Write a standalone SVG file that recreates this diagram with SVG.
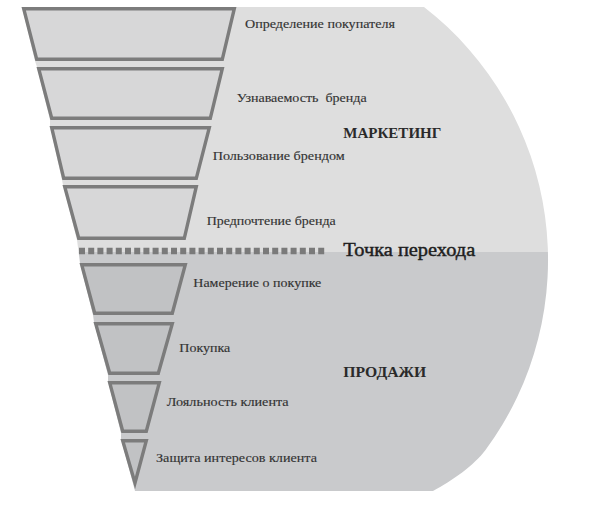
<svg xmlns="http://www.w3.org/2000/svg" width="600" height="508" viewBox="0 0 600 508">
  <style>
    .trap { stroke: #7c7c7c; stroke-width: 3.4; stroke-linejoin: miter; stroke-miterlimit: 10; }
    .up { fill: #d7d7d8; }
    .lo { fill: #c1c2c4; }
    .lbl { font-family: "Liberation Serif", "DejaVu Serif", serif; font-size: 13px; fill: #333333; stroke: #333333; stroke-width: 0.15; }
    .head { font-family: "Liberation Serif", "DejaVu Serif", serif; font-size: 15px; font-weight: bold; fill: #2a2a2a; }
    .tp { font-family: "Liberation Serif", "DejaVu Serif", serif; font-size: 19px; fill: #1e1e1e; stroke: #1e1e1e; stroke-width: 0.45; }
  </style>
  <defs>
    <path id="bgshape" d="M22,7 L424,7 A320,320 0 0 1 485.5,450 C474.4,465 452,481 433,491 L135,491 L121,439 L121,433 L108,381 L108,375 L94,322 L93,315 L80,263 L77,240 L63,185 L62,180 L50,126 L50,120 L37,67 L35,61 Z"/>
    <clipPath id="upperClip"><rect x="0" y="0" width="600" height="252"/></clipPath>
    <clipPath id="lowerClip"><rect x="0" y="252" width="600" height="256"/></clipPath>
  </defs>

  <g id="background">
    <use href="#bgshape" fill="#dedede" clip-path="url(#upperClip)"/>
    <use href="#bgshape" fill="#c9cacc" clip-path="url(#lowerClip)"/>
  </g>

  <g id="node-opredelenie">
    <polygon class="trap up" points="23.7,8.7 234.3,8.7 222.3,59.3 36.7,59.3"/>
    <text class="lbl" x="245" y="28.3" textLength="150" lengthAdjust="spacingAndGlyphs">Определение покупателя</text>
  </g>
  <g id="node-uznavaemost">
    <polygon class="trap up" points="38.7,68.7 222.3,68.7 210.3,118.3 51.7,118.3"/>
    <text class="lbl" x="236.7" y="101.7" textLength="130" lengthAdjust="spacingAndGlyphs" xml:space="preserve">Узнаваемость  бренда</text>
  </g>
  <g id="node-polzovanie">
    <polygon class="trap up" points="51.7,127.7 209.3,127.7 196.3,178.3 63.7,178.3"/>
    <text class="lbl" x="212.7" y="160" textLength="132" lengthAdjust="spacingAndGlyphs">Пользование брендом</text>
  </g>
  <g id="node-predpochtenie">
    <polygon class="trap up" points="64.7,186.7 196.3,186.7 184.3,238.3 78.7,238.3"/>
    <text class="lbl" x="206.7" y="224.5" textLength="129" lengthAdjust="spacingAndGlyphs">Предпочтение бренда</text>
  </g>
  <g id="node-namerenie">
    <polygon class="trap lo" points="81.7,264.7 185.3,264.7 172.3,313.3 94.7,313.3"/>
    <text class="lbl" x="193.3" y="287.3" textLength="128" lengthAdjust="spacingAndGlyphs">Намерение о покупке</text>
  </g>
  <g id="node-pokupka">
    <polygon class="trap lo" points="95.7,323.7 172.3,323.7 158.3,373.3 109.7,373.3"/>
    <text class="lbl" x="179.3" y="351.7" textLength="51" lengthAdjust="spacingAndGlyphs">Покупка</text>
  </g>
  <g id="node-loyalnost">
    <polygon class="trap lo" points="109.7,382.7 159.3,382.7 146.3,431.3 122.7,431.3"/>
    <text class="lbl" x="166.7" y="406" textLength="122" lengthAdjust="spacingAndGlyphs">Лояльность клиента</text>
  </g>
  <g id="node-zashchita">
    <polygon class="trap lo" points="122.7,440.7 146.3,440.7 135,483"/>
    <text class="lbl" x="156" y="462.3" textLength="161" lengthAdjust="spacingAndGlyphs">Защита интересов клиента</text>
  </g>

  <g id="section-labels">
    <text class="head" x="343.3" y="138.3" textLength="98" lengthAdjust="spacingAndGlyphs">МАРКЕТИНГ</text>
    <text class="head" x="343.3" y="377.3" textLength="83" lengthAdjust="spacingAndGlyphs">ПРОДАЖИ</text>
  </g>

  <g id="connectors">
    <line x1="79" y1="251" x2="326" y2="251" stroke="#7a7a7a" stroke-width="6.5" stroke-dasharray="6 3.2"/>
    <text class="tp" x="343.3" y="256" textLength="132" lengthAdjust="spacingAndGlyphs">Точка перехода</text>
  </g>
</svg>
